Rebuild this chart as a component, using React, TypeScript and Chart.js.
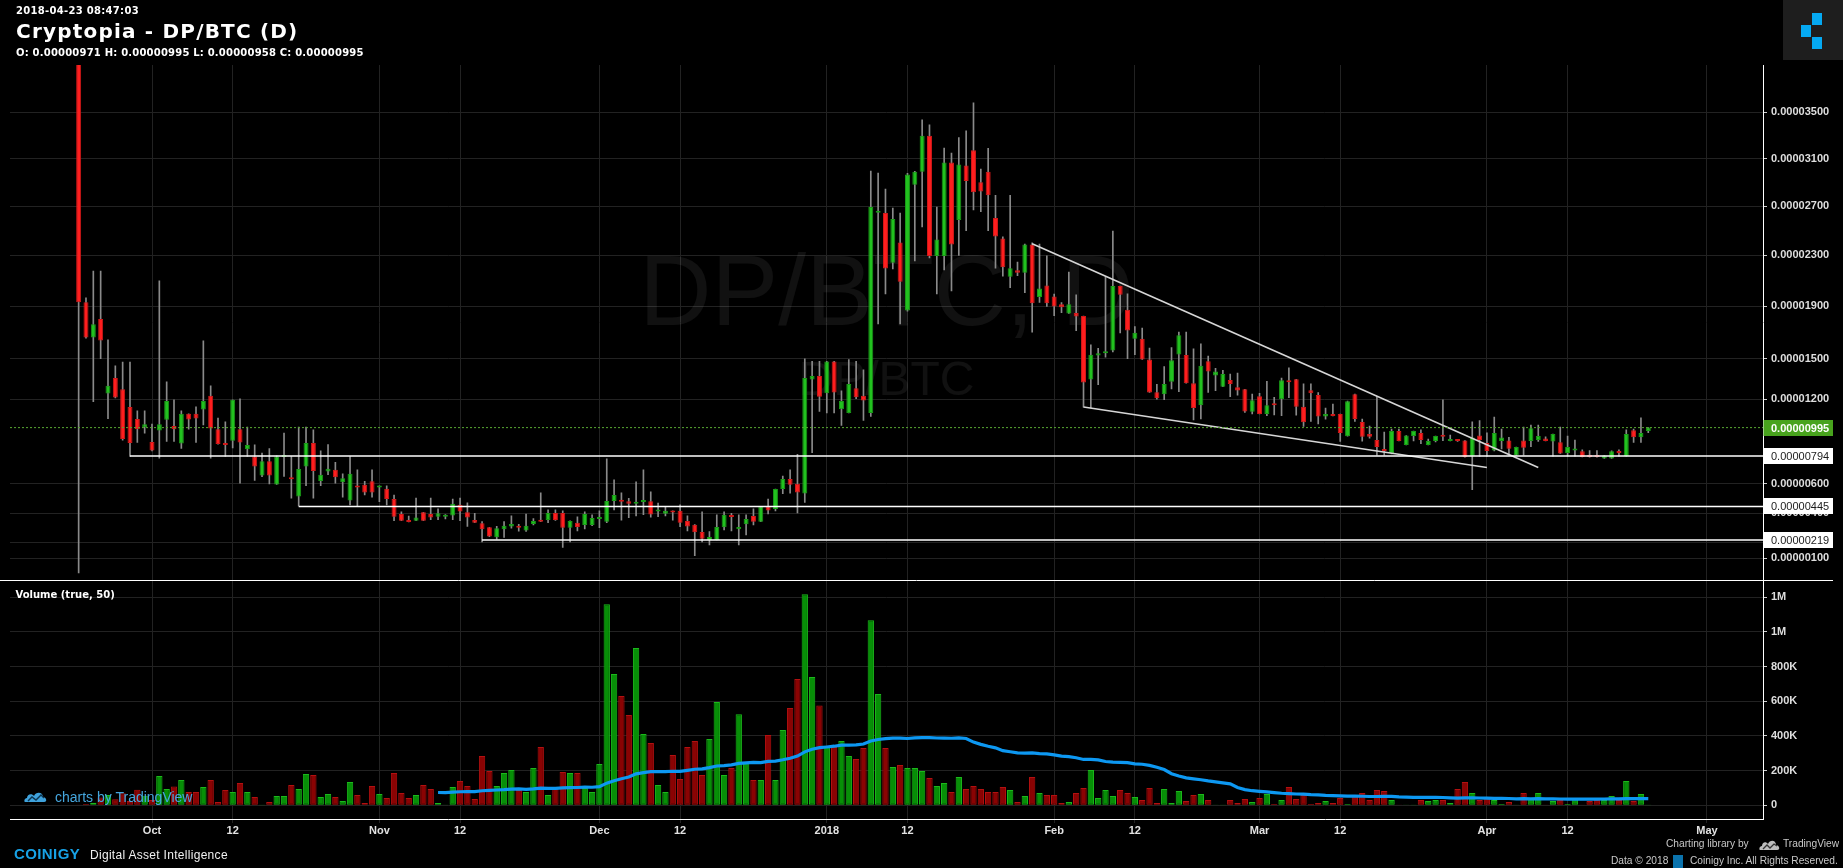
import React, { useEffect, useRef } from "react";
import { Chart, registerables, LinearScale } from "chart.js";

Chart.register(...registerables);

// ---------------- DATA ----------------
// Prices are in satoshi (1e-8 BTC). Day index is days relative to 2017-10-01.
const FIRST_DAY = -10; // first candle = 2017-09-21, one candle per day up to 2018-04-23

const OPEN = [
  4100, 1930, 1660, 1800, 1241, 1355, 1273, 1143, 1056, 998,
  892, 974, 1051, 1007, 882, 1094, 1094, 1125, 1225, 984,
  885, 902, 984, 842, 790, 658, 757, 596, 786, 646,
  513, 720, 885, 620, 685, 697, 611, 486, 587, 594,
  617, 575, 566, 495, 394, 353, 348, 405, 394, 376,
  376, 383, 456, 405, 353, 331, 304, 238, 291, 310,
  307, 282, 327, 353, 353, 401, 401, 302, 335, 320,
  320, 360, 342, 482, 489, 480, 463, 475, 480, 411,
  396, 415, 415, 347, 322, 273, 220, 220, 305, 381,
  291, 324, 381, 342, 444, 427, 564, 633, 601, 533,
  1345, 1370, 1244, 1479, 1128, 1100, 1280, 1225, 1100, 2645,
  2643, 2241, 2402, 1866, 2879, 2987, 3296, 2295, 2295, 3065,
  2585, 3040, 3170, 2900, 2987, 2603, 2435, 2130, 2181, 2162,
  2386, 1970, 2061, 1975, 1915, 1843, 1846, 1823, 1344, 1524,
  1541, 1561, 2057, 1871, 1649, 1649, 1494, 1251, 1237, 1329,
  1531, 1527, 1318, 1157, 1480, 1375, 1292, 1341, 1288, 1273,
  1109, 1222, 1093, 1167, 1200, 1339, 1346, 1145, 1266, 1230,
  1074, 1093, 1093, 934, 1237, 1035, 949, 906, 843, 814,
  970, 871, 935, 956, 871, 900, 944, 900, 907, 903,
  790, 938, 885, 832, 900, 903, 797, 903, 900, 907,
  918, 896, 890, 814, 832, 828, 797, 797, 776, 776,
  825, 792, 976, 926, 971,
];
const HIGH = [
  4100, 1965, 2175, 2175, 1641, 1446, 1474, 1474, 1116, 1116,
  1020, 2097, 1327, 1196, 1116, 1094, 1145, 1634, 1298, 1063,
  1036, 1196, 1203, 998, 873, 814, 846, 795, 956, 790,
  998, 998, 979, 830, 875, 749, 669, 790, 697, 617,
  697, 587, 587, 523, 408, 380, 502, 405, 502, 429,
  390, 495, 502, 470, 399, 342, 304, 310, 342, 381,
  324, 394, 363, 538, 422, 422, 415, 347, 374, 408,
  388, 415, 773, 628, 538, 500, 614, 697, 545, 468,
  440, 415, 456, 381, 322, 409, 276, 388, 408, 399,
  388, 388, 429, 444, 495, 564, 654, 697, 805, 1499,
  1479, 1479, 1479, 1479, 1261, 1493, 1479, 1416, 2993, 2976,
  2842, 2683, 2643, 2975, 2990, 3433, 3390, 2693, 3190, 3147,
  3280, 3338, 3583, 3010, 3187, 2790, 2449, 2790, 2245, 2390,
  2400, 2391, 2296, 1994, 1928, 2167, 1987, 1823, 1604, 1578,
  2131, 2496, 2057, 1995, 1743, 1730, 1580, 1310, 1441, 1583,
  1700, 1700, 1573, 1611, 1520, 1428, 1413, 1385, 1392, 1273,
  1237, 1244, 1332, 1214, 1355, 1431, 1346, 1312, 1312, 1248,
  1136, 1165, 1093, 1186, 1237, 1057, 1006, 1222, 963, 985,
  985, 938, 970, 979, 913, 935, 1196, 942, 910, 903,
  1036, 1046, 958, 1071, 985, 925, 857, 998, 1013, 1013,
  930, 949, 998, 935, 907, 837, 832, 832, 797, 830,
  837, 979, 985, 1066, 995,
];
const LOW = [
  2, 1655, 1183, 1500, 1060, 1210, 905, 790, 889, 956,
  830, 779, 896, 896, 847, 984, 889, 1015, 779, 878,
  790, 850, 605, 790, 623, 650, 600, 596, 651, 502,
  449, 587, 502, 587, 663, 605, 509, 456, 449, 523,
  509, 477, 456, 348, 348, 340, 348, 348, 356, 356,
  360, 356, 348, 310, 335, 207, 242, 225, 236, 298,
  278, 276, 320, 342, 335, 350, 170, 207, 280, 294,
  316, 302, 335, 422, 353, 369, 380, 390, 372, 376,
  380, 353, 309, 280, 116, 207, 187, 220, 287, 280,
  187, 253, 320, 342, 394, 415, 532, 536, 401, 472,
  818, 1111, 1100, 1100, 1010, 1100, 1205, 1046, 1075, 1763,
  1995, 2191, 1763, 1860, 2256, 2529, 2279, 1995, 2183, 2018,
  2300, 2498, 2669, 2655, 2498, 2197, 2134, 2044, 2138, 2005,
  1700, 1928, 1897, 1827, 1850, 1843, 1712, 1143, 1136, 1306,
  1511, 1551, 1694, 1499, 1529, 1494, 1249, 1200, 1196, 1276,
  1256, 1318, 1051, 1058, 1249, 1262, 1292, 1219, 1230, 1105,
  1094, 1093, 1080, 1087, 1080, 1212, 1085, 1003, 1039, 1022,
  1056, 1079, 896, 934, 1040, 899, 920, 800, 800, 808,
  900, 871, 900, 881, 871, 893, 902, 900, 897, 785,
  559, 790, 790, 830, 843, 800, 797, 800, 860, 896,
  900, 792, 811, 792, 792, 787, 785, 785, 776, 776,
  792, 792, 889, 889, 958,
];
const CLOSE = [
  1930, 1660, 1760, 1636, 1298, 1212, 913, 885, 984, 1020,
  832, 1020, 1188, 984, 1094, 1053, 1060, 1188, 989, 878,
  871, 1196, 889, 871, 720, 757, 658, 790, 790, 632,
  702, 885, 688, 663, 704, 646, 639, 669, 575, 540,
  540, 587, 495, 376, 348, 340, 371, 348, 371, 399,
  388, 463, 411, 371, 335, 291, 242, 298, 314, 327,
  301, 314, 347, 342, 401, 353, 302, 347, 307, 394,
  366, 367, 482, 523, 477, 463, 477, 480, 390, 422,
  415, 404, 335, 309, 271, 227, 240, 307, 388, 374,
  307, 360, 342, 444, 417, 564, 633, 594, 540, 1355,
  1370, 1219, 1479, 1249, 1188, 1312, 1214, 1191, 2693, 2653,
  2194, 2595, 2091, 2964, 2987, 3296, 2295, 2427, 3065, 2386,
  3048, 2909, 2815, 2822, 2790, 2452, 2205, 2197, 2162, 2386,
  1923, 2038, 1923, 1897, 1892, 1915, 1820, 1322, 1529, 1541,
  1554, 2057, 1989, 1712, 1695, 1494, 1249, 1207, 1312, 1488,
  1677, 1318, 1136, 1446, 1404, 1404, 1385, 1312, 1263, 1111,
  1193, 1093, 1157, 1157, 1339, 1325, 1145, 1034, 1244, 1074,
  1093, 1079, 956, 1186, 1057, 929, 929, 857, 829, 970,
  900, 938, 970, 907, 900, 935, 930, 907, 900, 785,
  924, 907, 829, 956, 925, 845, 857, 852, 991, 935,
  900, 949, 811, 857, 837, 787, 787, 787, 797, 828,
  814, 949, 926, 956, 995,
];
// volume in thousands of DP
const VOLUME_K = [
  5, 8, 15, 45, 60, 35, 70, 25, 90, 55, 30,
  169, 94, 108, 146, 77, 77, 106, 146, 19, 88,
  77, 129, 77, 48, 1, 19, 54, 54, 117, 94,
  181, 175, 48, 65, 48, 25, 134, 60, 13, 111,
  65, 42, 186, 71, 42, 60, 117, 94, 13, 2,
  106, 140, 111, 36, 284, 198, 111, 186, 204, 88,
  77, 215, 336, 60, 94, 192, 186, 186, 100, 77,
  238, 1160, 757, 630, 521, 907, 411, 359, 117, 77,
  290, 152, 336, 371, 175, 382, 596, 175, 215, 526,
  250, 146, 146, 405, 146, 434, 561, 728, 1218, 740,
  576, 336, 336, 371, 284, 267, 330, 1068, 642, 330,
  221, 232, 215, 215, 198, 158, 111, 129, 77, 163,
  94, 111, 94, 77, 77, 106, 88, 19, 54, 163,
  71, 60, 60, 13, 19, 71, 100, 204, 42, 88,
  54, 88, 71, 48, 31, 100, 13, 94, 13, 83,
  25, 60, 65, 31, 2, 1, 31, 13, 36, 19,
  42, 65, 8, 31, 106, 36, 60, 8, 13, 25,
  13, 42, 8, 54, 71, 31, 88, 83, 31, 2,
  2, 1, 31, 25, 31, 31, 13, 94, 134, 71,
  31, 42, 31, 8, 19, 2, 71, 42, 71, 2,
  25, 31, 8, 36, 2, 25, 31, 31, 54, 31,
  140, 25, 65, 1,
];

const X_TICK_DAYS = [0, 11, 31, 42, 61, 72, 92, 103, 123, 134, 151, 162, 182, 193, 212];
const X_TICK_LABELS = ["Oct", "12", "Nov", "12", "Dec", "12", "2018", "12", "Feb", "12", "Mar", "12", "Apr", "12", "May"];
const PRICE_TICKS = [3500, 3100, 2700, 2300, 1900, 1500, 1200, 600, 400, 200, 100];
const VOLUME_TICKS_K = [0, 200, 400, 600, 800, 1000, 1200];

// user drawings
const LEVELS = [794, 445, 219];
const LEVEL_START_DAY = [-3, 20, 45];
const TREND_UPPER_DAYS = [120, 189];
const TREND_UPPER_PRICES = [2393, 713];
const TREND_LOWER_DAYS = [127, 182];
const TREND_LOWER_PRICES = [1143, 713];
const MA_PERIOD = 50;

// ---------------- LAYOUT / STYLE ----------------
const W = 1843;
const H = 868;
const X_MIN = -19.36;
const X_MAX = 219.64;
const PRICE_MIN = -40;
const PRICE_MAX = 3922;
const VOL_MIN = -79;
const VOL_MAX = 1302.7;
const GRID = "#222222";
const AXIS_FONT = '"Liberation Sans", Arial, sans-serif';
const TV_FONT = '"DejaVu Sans", Verdana, sans-serif';
const GREEN = "#22c21f";
const GREEN_B = "#199a17";
const RED = "#ff1e1e";
const RED_B = "#d01818";

const PRICE_OFFSET = 10000; // satoshi offset of the price-scale log transform

class OffsetLogScale extends LinearScale {
  static id = "offsetLog";
  static defaults = {};
  configure() {
    super.configure();
    this._tMin = Math.log(this.min + PRICE_OFFSET);
    this._tMax = Math.log(this.max + PRICE_OFFSET);
  }
  getPixelForValue(value) {
    if (value === null || value === undefined || isNaN(value)) return NaN;
    const d = (Math.log(value + PRICE_OFFSET) - this._tMin) / (this._tMax - this._tMin);
    return this.getPixelForDecimal(d);
  }
  getValueForPixel(pixel) {
    const d = this.getDecimalForPixel(pixel);
    return Math.exp(this._tMin + d * (this._tMax - this._tMin)) - PRICE_OFFSET;
  }
}
Chart.register(OffsetLogScale);

const fmtPrice = (v: number) => (v * 1e-8).toFixed(8);
const fmtVol = (v: number) => (v >= 1000 ? Math.round(v / 1000) + "M" : v > 0 ? v + "K" : "0");

const dayOf = (i: number) => FIRST_DAY + i;
const isUp = (i: number) => CLOSE[i] >= OPEN[i];

const xScale = (showLabels: boolean) => ({
  type: "linear",
  min: X_MIN,
  max: X_MAX,
  offset: false,
  afterBuildTicks: (s: any) => {
    s.ticks = X_TICK_DAYS.map((v) => ({ value: v }));
  },
  afterFit: (s: any) => {
    s.height = showLabels ? 49 : 0;
  },
  ticks: {
    display: showLabels,
    autoSkip: false,
    maxRotation: 0,
    padding: 1,
    color: "#e2e2e2",
    font: { family: AXIS_FONT, size: 11, weight: "bold" },
    callback: (_v: any, i: number) => X_TICK_LABELS[i],
  },
  grid: { offset: false, color: GRID, lineWidth: 1, drawTicks: showLabels, tickLength: 4, tickColor: GRID },
  border: { display: showLabels, color: "#ffffff", width: 1 },
});

const yAxisCommon = {
  position: "right",
  afterFit: (s: any) => {
    s.width = 80;
  },
  grid: { color: GRID, lineWidth: 1, tickLength: 4, tickColor: "#cfcfcf" },
  border: { display: true, color: "#ffffff", width: 1 },
};

const watermarkPlugin = {
  id: "watermark",
  beforeDatasetsDraw(chart: any) {
    const { ctx, chartArea } = chart;
    const cx = (chartArea.left + chartArea.right) / 2;
    ctx.save();
    ctx.fillStyle = "rgba(255,255,255,0.065)";
    ctx.textAlign = "center";
    ctx.textBaseline = "alphabetic";
    ctx.font = `100px ${AXIS_FONT}`;
    ctx.fillText("DP/BTC, D", cx, 325);
    ctx.font = `48px ${AXIS_FONT}`;
    ctx.fillText("DP/BTC", cx, 395);
    ctx.restore();
  },
};

const priceLabelPlugin = {
  id: "priceLabels",
  afterDraw(chart: any) {
    const { ctx, chartArea } = chart;
    const y = chart.scales.y;
    const x0 = chartArea.right + 0.5;
    const box = (v: number, fill: string, color: string, weight: string) => {
      const py = Math.round(y.getPixelForValue(v));
      ctx.fillStyle = fill;
      ctx.fillRect(x0, py - 8, 69.5, 16);
      ctx.fillStyle = color;
      ctx.font = `${weight} 11px ${AXIS_FONT}`;
      ctx.textAlign = "left";
      ctx.textBaseline = "middle";
      ctx.fillText(fmtPrice(v), x0 + 7.5, py + 0.5);
    };
    ctx.save();
    LEVELS.forEach((v) => box(v, "#ffffff", "#1c1c1c", "normal"));
    box(CLOSE[CLOSE.length - 1], "#48a31d", "#ffffff", "bold");
    ctx.restore();
  },
};

const separatorPlugin = {
  id: "separator",
  afterDraw(chart: any) {
    const { ctx, chartArea } = chart;
    ctx.save();
    ctx.strokeStyle = "#ffffff";
    ctx.lineWidth = 1;
    ctx.beginPath();
    ctx.moveTo(0, Math.round(chartArea.top) + 0.5);
    ctx.lineTo(1833, Math.round(chartArea.top) + 0.5);
    ctx.stroke();
    ctx.restore();
  },
};

function priceConfig(): any {
  const n = OPEN.length;
  const idx = Array.from({ length: n }, (_, i) => i);
  const last = CLOSE[n - 1];
  const line = (pts: { x: number; y: number }[], color: string, width: number, dash: number[] = []) => ({
    type: "line",
    data: pts,
    borderColor: color,
    borderWidth: width,
    borderDash: dash,
    pointRadius: 0,
    tension: 0,
    fill: false,
    order: 1,
  });
  const datasets: any[] = [
    {
      type: "bar",
      label: "wick",
      data: idx.map((i) => ({ x: dayOf(i), y: [LOW[i], HIGH[i]] })),
      backgroundColor: "#8a8a8a",
      borderWidth: 0,
      barThickness: 1,
      grouped: false,
      order: 3,
    },
    {
      type: "bar",
      label: "body",
      data: idx.map((i) => ({ x: dayOf(i), y: [OPEN[i], CLOSE[i]] })),
      backgroundColor: idx.map((i) => (isUp(i) ? GREEN : RED)),
      borderColor: idx.map((i) => (isUp(i) ? GREEN_B : RED_B)),
      borderWidth: 1,
      borderSkipped: false,
      barPercentage: 0.68,
      categoryPercentage: 1,
      minBarLength: 2,
      grouped: false,
      order: 2,
    },
    line([{ x: X_MIN, y: last }, { x: X_MAX, y: last }], "#58a832", 1, [2, 2]),
    ...LEVELS.map((v, k) => line([{ x: LEVEL_START_DAY[k], y: v }, { x: X_MAX, y: v }], "#ffffff", 1.5)),
    line(
      TREND_UPPER_DAYS.map((d, k) => ({ x: d, y: TREND_UPPER_PRICES[k] })),
      "#d6d6d6",
      1.6
    ),
    line(
      TREND_LOWER_DAYS.map((d, k) => ({ x: d, y: TREND_LOWER_PRICES[k] })),
      "#d6d6d6",
      1.6
    ),
  ];
  return {
    type: "bar",
    data: { datasets },
    options: {
      responsive: false,
      animation: false,
      devicePixelRatio: 1,
      events: [],
      layout: { padding: { left: 10, top: 65, right: 0, bottom: H - 579.5 } },
      plugins: { legend: { display: false }, tooltip: { enabled: false } },
      scales: {
        x: xScale(false),
        y: {
          ...yAxisCommon,
          type: "offsetLog",
          min: PRICE_MIN,
          max: PRICE_MAX,
          afterBuildTicks: (s: any) => {
            s.ticks = PRICE_TICKS.map((v) => ({ value: v }));
          },
          ticks: {
            autoSkip: false,
            padding: 4,
            color: "#dedede",
            font: { family: AXIS_FONT, size: 11, weight: "bold" },
            callback: (v: number) => fmtPrice(v),
          },
        },
      },
    },
    plugins: [watermarkPlugin, priceLabelPlugin],
  };
}

function volumeConfig(): any {
  const n = VOLUME_K.length;
  const idx = Array.from({ length: n }, (_, i) => i);
  const ma: { x: number; y: number }[] = [];
  for (let i = MA_PERIOD - 1; i < n; i++) {
    let s = 0;
    for (let j = i - MA_PERIOD + 1; j <= i; j++) s += VOLUME_K[j];
    ma.push({ x: dayOf(i), y: s / MA_PERIOD });
  }
  return {
    type: "bar",
    data: {
      datasets: [
        {
          type: "line",
          label: "MA",
          data: ma,
          borderColor: "#0d98f2",
          borderWidth: 3.2,
          pointRadius: 0,
          tension: 0,
          fill: false,
          order: 1,
        },
        {
          type: "bar",
          label: "Volume",
          data: idx.map((i) => ({ x: dayOf(i), y: VOLUME_K[i] })),
          backgroundColor: idx.map((i) => (isUp(i) ? "#078f07" : "#8a0303")),
          borderColor: idx.map((i) => (isUp(i) ? "#1bb81b" : "#b31010")),
          borderWidth: 1,
          borderSkipped: false,
          barPercentage: 0.86,
          categoryPercentage: 1,
          order: 2,
        },
      ],
    },
    options: {
      responsive: false,
      animation: false,
      devicePixelRatio: 1,
      events: [],
      layout: { padding: { left: 10, top: 579.5, right: 0, bottom: 0 } },
      plugins: { legend: { display: false }, tooltip: { enabled: false } },
      scales: {
        x: xScale(true),
        y: {
          ...yAxisCommon,
          type: "linear",
          min: VOL_MIN,
          max: VOL_MAX,
          afterBuildTicks: (s: any) => {
            s.ticks = VOLUME_TICKS_K.map((v) => ({ value: v }));
          },
          ticks: {
            autoSkip: false,
            padding: 4,
            color: "#dedede",
            font: { family: AXIS_FONT, size: 11, weight: "bold" },
            callback: (v: number) => fmtVol(v),
          },
        },
      },
    },
    plugins: [separatorPlugin],
  };
}

const Txt = (p: { x: number; top: number; size: number; children: any; color?: string; bold?: boolean; family?: string; ls?: number }) => (
  <div
    style={{
      position: "absolute",
      left: p.x,
      top: p.top,
      fontSize: p.size,
      lineHeight: 1.2,
      whiteSpace: "nowrap",
      color: p.color || "#ffffff",
      fontWeight: p.bold ? "bold" : "normal",
      fontFamily: p.family || AXIS_FONT,
      letterSpacing: p.ls || 0,
    }}
  >
    {p.children}
  </div>
);

export default function App() {
  const priceRef = useRef<HTMLCanvasElement>(null);
  const volRef = useRef<HTMLCanvasElement>(null);
  useEffect(() => {
    const pc = new Chart(priceRef.current as HTMLCanvasElement, priceConfig());
    const vc = new Chart(volRef.current as HTMLCanvasElement, volumeConfig());
    return () => {
      pc.destroy();
      vc.destroy();
    };
  }, []);
  const n = CLOSE.length;
  const ohlc = `O: ${fmtPrice(OPEN[n - 1])} H: ${fmtPrice(HIGH[n - 1])} L: ${fmtPrice(LOW[n - 1])} C: ${fmtPrice(CLOSE[n - 1])}`;
  return (
    <div style={{ position: "fixed", left: 0, top: 0, width: W, height: H, background: "#000", overflow: "hidden" }}>
      <canvas ref={priceRef} width={W} height={H} style={{ position: "absolute", left: 0, top: 0 }} />
      <canvas ref={volRef} width={W} height={H} style={{ position: "absolute", left: 0, top: 0 }} />

      <Txt x={16} top={5.2} size={10} bold family={TV_FONT} ls={0.3}>2018-04-23 08:47:03</Txt>
      <Txt x={16} top={18.8} size={20} bold family={TV_FONT} ls={1.2}>Cryptopia - DP/BTC (D)</Txt>
      <Txt x={16} top={47} size={10} bold family={TV_FONT} ls={0.2}>{ohlc}</Txt>
      <Txt x={15.5} top={588.5} size={10} bold family={TV_FONT}>Volume (true, 50)</Txt>

      <div style={{ position: "absolute", left: 1783, top: 0, width: 60, height: 60, background: "#1e1e1e" }}>
        <div style={{ position: "absolute", left: 28.7, top: 13, width: 10, height: 11.6, background: "#05a9f2" }} />
        <div style={{ position: "absolute", left: 18, top: 24.6, width: 10, height: 12, background: "#05a9f2" }} />
        <div style={{ position: "absolute", left: 28.7, top: 36.6, width: 10, height: 12, background: "#05a9f2" }} />
      </div>

      <svg style={{ position: "absolute", left: 24, top: 789 }} width={24} height={15} viewBox="0 0 24 15">
        <path d="M1 13 C0 13 0 9 3 9 C3 5 8 4 10 7 C12 2 19 3 19 8 C22 8 24 13 20 13 Z" fill="#3fa2dc" />
        <path d="M4 12 L8 8 L12 11 L17 6 L20 9" stroke="#0b3550" strokeWidth={1.4} fill="none" />
      </svg>
      <Txt x={55} top={788.7} size={14} color="#45a6de">charts by TradingView</Txt>

      <Txt x={14} top={845} size={15} bold color="#17a2e6" ls={0.4}>COINIGY</Txt>
      <Txt x={90} top={848} size={12} color="#f0f0f0" ls={0.3}>Digital Asset Intelligence</Txt>

      <Txt x={1666} top={838.4} size={10.2} color="#c8c8c8">Charting library by</Txt>
      <svg style={{ position: "absolute", left: 1759, top: 838 }} width={22} height={13} viewBox="0 0 22 13">
        <path d="M1 12 C0 12 0 8 3 8 C3 4 7 3 9 6 C11 1 17 2 17 7 C20 7 22 12 18 12 Z" fill="#bdbdbd" />
        <path d="M4 11 L8 7 L11 10 L15 6 L18 8" stroke="#333" strokeWidth={1.3} fill="none" />
      </svg>
      <Txt x={1783} top={838.4} size={10.2} color="#c8c8c8">TradingView</Txt>
      <Txt x={1611} top={855} size={10.2} color="#c8c8c8">Data © 2018</Txt>
      <div style={{ position: "absolute", left: 1673, top: 855, width: 10, height: 13, background: "#0b73ad" }} />
      <Txt x={1690} top={855} size={10.2} color="#c8c8c8">Coinigy Inc. All Rights Reserved.</Txt>
    </div>
  );
}
